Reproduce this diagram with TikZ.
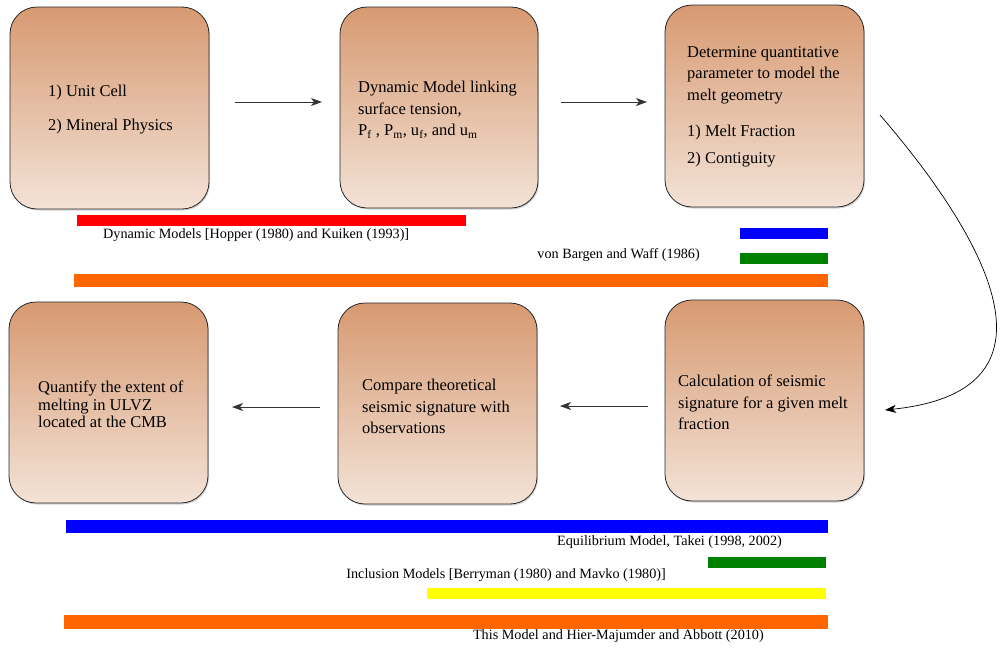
\documentclass[tikz,border=0pt]{standalone}
\usepackage{fontspec}
\setmainfont{Liberation Serif}
\usetikzlibrary{arrows.meta,shadows}
\definecolor{boxtop}{RGB}{215,154,114}
\definecolor{boxbot}{RGB}{243,226,214}
\definecolor{boxline}{RGB}{40,40,40}
\definecolor{barred}{RGB}{255,0,0}
\definecolor{barblue}{RGB}{0,0,255}
\definecolor{bargreen}{RGB}{0,128,0}
\definecolor{barorange}{RGB}{255,102,0}
\definecolor{baryellow}{RGB}{255,255,0}
\tikzset{
  flowbox/.style={draw=boxline, line width=0.8pt, rounded corners=27pt,
    top color=boxtop, bottom color=boxbot,
    drop shadow={shadow xshift=1pt, shadow yshift=-1.5pt, opacity=0.35}},
  boxtext/.style={font=\fontsize{16.5}{21.5}\selectfont, align=left, anchor=north west, inner sep=0pt},
  barlabel/.style={font=\fontsize{14.2}{16}\selectfont, inner sep=0pt},
  flowarrow/.style={draw=black!80, line width=0.9pt, -{Stealth[length=11pt,width=8pt,inset=3pt]}},
}
\begin{document}
\begin{tikzpicture}[x=1pt,y=-1pt]
\useasboundingbox (0,0) rectangle (1000,648);
% boxes
\path[flowbox] (10,7) rectangle (209,209);
\node[inner sep=0pt] (b1) at (109.5,108) {};
\path[flowbox] (340,7) rectangle (538,208);
\node[inner sep=0pt] (b2) at (439,107.5) {};
\path[flowbox] (665,5) rectangle (864,207);
\node[inner sep=0pt] (b3) at (764.5,106) {};
\path[flowbox] (9,302) rectangle (208,503);
\node[inner sep=0pt] (b4) at (108.5,402.5) {};
\path[flowbox] (338,303) rectangle (537,504);
\node[inner sep=0pt] (b5) at (437.5,403.5) {};
\path[flowbox] (665,300) rectangle (864,501);
\node[inner sep=0pt] (b6) at (764.5,400.5) {};
% texts
\node[boxtext] (t1a) at (48,85) {1) Unit Cell};
\node[boxtext] (t1b) at (48,119) {2) Mineral Physics};
\node[boxtext] (t2) at (358,81) {Dynamic Model linking\\surface tension,\\P\textsubscript{f} , P\textsubscript{m}, u\textsubscript{f}, and u\textsubscript{m}};
\node[boxtext] (t3a) at (687,46) {Determine quantitative\\parameter to model the\\melt geometry};
\node[boxtext] (t3b) at (687,125) {1) Melt Fraction};
\node[boxtext] (t3c) at (687,152) {2) Contiguity};
\node[boxtext, font=\fontsize{16.5}{17.5}\selectfont] (t4) at (38,381) {Quantify the extent of\\melting in ULVZ\\located at the CMB};
\node[boxtext] (t5) at (362,379) {Compare theoretical\\seismic signature with\\observations};
\node[boxtext] (t6) at (678,375) {Calculation of seismic\\signature for a given melt\\fraction};
% arrows
\coordinate (a1s) at (235,102); \coordinate (a1e) at (322,102);
\coordinate (a2s) at (561,102); \coordinate (a2e) at (647,102);
\coordinate (a3s) at (648,406); \coordinate (a3e) at (560,406);
\coordinate (a4s) at (320,407); \coordinate (a4e) at (232,407);
\draw[flowarrow] (a1s) -- (a1e);
\draw[flowarrow] (a2s) -- (a2e);
\draw[flowarrow] (a3s) -- (a3e);
\draw[flowarrow] (a4s) -- (a4e);
\coordinate (cs) at (880,115); \coordinate (ce) at (885,410);
\draw[flowarrow, draw=black, line width=0.7pt] (cs) .. controls (975,225) and (1080,390) .. (ce);
% bars top
\fill[barred] (77,215) rectangle (466,226);
\node[barlabel, anchor=west] (l1) at (103,235) {Dynamic Models [Hopper (1980) and Kuiken (1993)]};
\fill[barblue] (740,228) rectangle (828,239);
\node[barlabel, anchor=east] (l2) at (700,255) {von Bargen and Waff (1986)};
\fill[bargreen] (740,253) rectangle (828,264);
\fill[barorange] (74,274) rectangle (828,287);
% bars bottom
\fill[barblue] (66,520) rectangle (828,533);
\node[barlabel, anchor=east] (l3) at (782,542) {Equilibrium Model, Takei (1998, 2002)};
\fill[bargreen] (708,557) rectangle (826,568);
\node[barlabel, anchor=east] (l4) at (666,575) {Inclusion Models [Berryman (1980) and Mavko (1980)]};
\fill[baryellow] (427,588) rectangle (826,599);
\fill[barorange] (64,615) rectangle (828,629);
\node[barlabel, anchor=east] (l5) at (764,636) {This Model and Hier-Majumder and Abbott (2010)};
\end{tikzpicture}
\end{document}
